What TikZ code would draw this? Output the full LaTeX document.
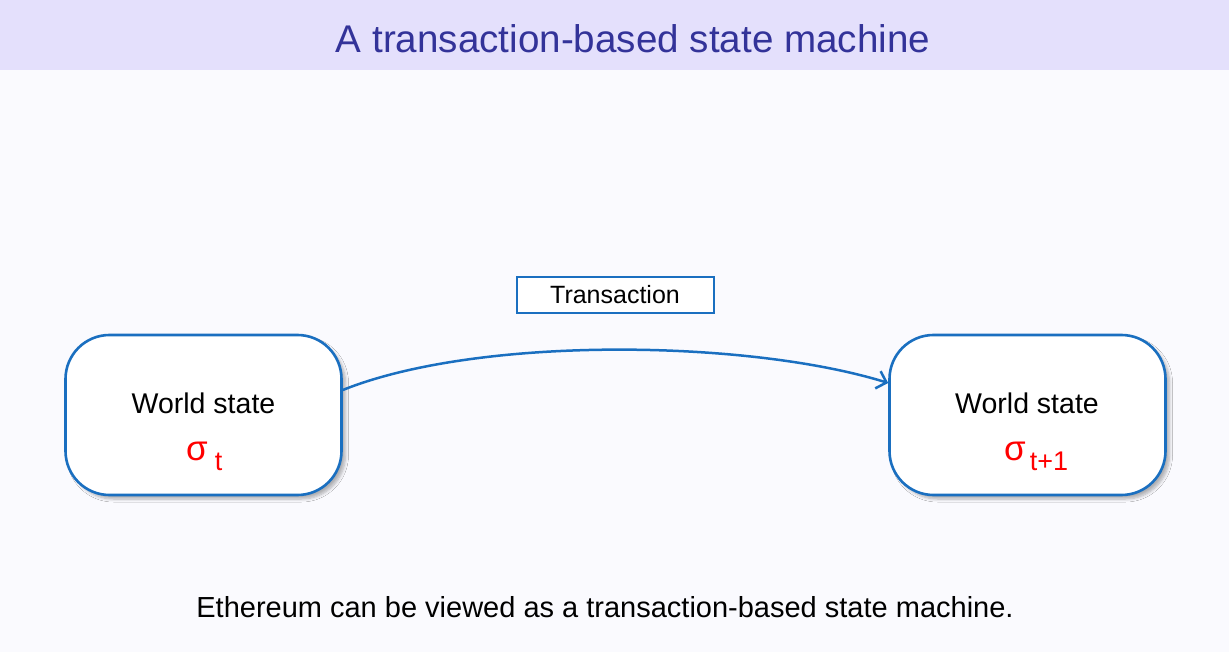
\documentclass[tikz,border=0pt]{standalone}
\usepackage{fontspec}
\setmainfont{Liberation Sans}
\usetikzlibrary{shadows.blur,arrows.meta}
\definecolor{bgc}{HTML}{FAFAFE}
\definecolor{bandc}{HTML}{E4E0FC}
\definecolor{titlec}{HTML}{333399}
\definecolor{boxc}{HTML}{1A6FC0}
\definecolor{sigc}{HTML}{FF0000}
\tikzset{
  statebox/.style={draw=boxc, line width=2.6pt, fill=white, rounded corners=44pt,
    minimum width=276pt, minimum height=160pt, inner sep=0pt,
    blur shadow={shadow xshift=4pt, shadow yshift=-4pt, shadow blur radius=3pt, shadow opacity=30, shadow blur steps=6}},
  wtext/.style={font=\fontsize{28.5}{30}\selectfont, anchor=base, inner sep=0pt},
  sigtext/.style={font=\fontsize{35}{35}\selectfont, text=sigc, anchor=base west, inner sep=0pt},
  tbox/.style={draw=boxc, line width=2pt, fill=white, minimum width=197pt, minimum height=36pt,
    inner sep=0pt, font=\fontsize{25}{26}\selectfont},
  conn/.style={draw=boxc, line width=2.5pt, -{Straight Barb[length=9pt,width=18pt,line width=2.5pt]}}
}
\begin{document}
\begin{tikzpicture}[x=1pt,y=-1pt]
  \path[fill=bgc] (0,0) rectangle (1229,652);
  \useasboundingbox (0,0) rectangle (1229,652);
  \path[fill=bandc] (0,0) rectangle (1229,70);
  \node[font=\fontsize{38.6}{40}\selectfont, text=titlec, anchor=base, inner sep=0pt] (title) at (633,53) {A transaction-based state machine};

  \node[statebox] (L) at (203.5,415) {};
  \node[statebox] (R) at (1027.5,415) {};

  \node[wtext] (Lw) at (203.5,413) {World state};
  \node[wtext] (Rw) at (1027,413) {World state};

  \node[sigtext] (Ls) at (186,460) {σ\hspace{7pt}\raisebox{-10pt}{\fontsize{27}{27}\selectfont t}};
  \node[sigtext] (Rs) at (1004,460) {σ\hspace{4pt}\raisebox{-10pt}{\fontsize{27}{27}\selectfont t+1}};

  \node[tbox] (T) at (615,295) {Transaction};

  \draw[conn] (L.east |- 0,390) .. controls (480,335) and (750,340) .. (R.west |- 0,383);

  \node[font=\fontsize{29}{30}\selectfont, anchor=base, inner sep=0pt] (cap) at (605,617) {Ethereum can be viewed as a transaction-based state machine.};
\end{tikzpicture}
\end{document}
